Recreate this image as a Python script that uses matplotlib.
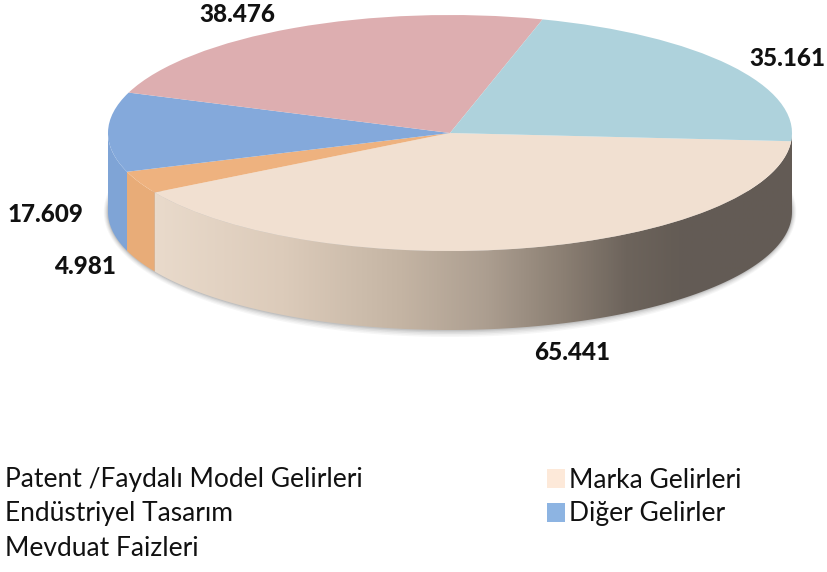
import numpy as np
import matplotlib
matplotlib.use("Agg")
import matplotlib.pyplot as plt
from matplotlib.colors import LinearSegmentedColormap
from matplotlib.patches import Polygon, Rectangle

# --- data
categories = ["Marka Gelirleri", "Mevduat Faizleri", "Diğer Gelirler",
              "Patent /Faydalı Model Gelirleri", "Endüstriyel Tasarım"]
values = [65.441, 4.981, 17.609, 38.476, 35.161]
value_labels = ["65.441", "4.981", "17.609", "38.476", "35.161"]
top_colors = ["#F1E0D1", "#EEB27F", "#84A9DB", "#DDAEB0", "#AED2DC"]
wall_colors = [None, "#E8AC78", "#7FA4D6"]
legend_left = ["Patent /Faydalı Model Gelirleri", "Endüstriyel Tasarım", "Mevduat Faizleri"]
legend_right = ["Marka Gelirleri", "Diğer Gelirler"]
legend_right_colors = ["#FDE9D9", "#8DB4E2"]

W, H = 827, 572
CX, CY, RX, RY = 450, 133, 342, 118
DEPTH = 79 / RY
START = -4

fig = plt.figure(figsize=(W / 100, H / 100), dpi=100)
ax = fig.add_axes([0, 0, 1, 1])
wedges, _ = ax.pie(values, startangle=START, counterclock=False, colors=top_colors,
                   wedgeprops=dict(linewidth=0))
for w in wedges:
    w.set_zorder(5)
ax.set_aspect("auto")
xlim = (-CX / RX, (W - CX) / RX)
ylim = (-(H - CY) / RY, CY / RY)


def wall(t0, t1):
    t = np.radians(np.linspace(t0, t1, 120))
    x, y = np.cos(t), np.sin(t)
    return np.column_stack([np.r_[x, x[::-1]], np.r_[y, y[::-1] - DEPTH]])


bounds = START - np.cumsum([0] + values) / sum(values) * 360

# soft shadow under the wall
for off, a in zip([7, 5.5, 4, 2.5, 1.2], [.05, .06, .08, .10, .12]):
    t = np.radians(np.linspace(10, -190, 200))
    pts = np.column_stack([np.cos(t) * (RX + off * .6) / RX,
                           np.sin(t) * (RY + off) / RY - DEPTH])
    ax.add_patch(Polygon(pts, closed=True, fc="#555555", ec="none", alpha=a, zorder=1))

# gradient wall of the largest slice
stops = [(0.0, "#E9DACB"), (0.2, "#DCCBBA"), (0.38, "#C5B5A4"), (0.52, "#AC9E90"),
         (0.64, "#8B7F73"), (0.74, "#6D645C"), (0.82, "#645C55"), (1.0, "#635B55")]
cmap = LinearSegmentedColormap.from_list("side", stops)
x0, x1 = np.cos(np.radians(bounds[1])), 1.0
poly = Polygon(wall(0, bounds[1]), closed=True, fc="none", ec="none",
               transform=ax.transData)
ax.add_patch(poly)
im = ax.imshow(np.linspace(0, 1, 512).reshape(1, -1), cmap=cmap, aspect="auto",
               extent=(x0, x1, -2, 1), zorder=3, interpolation="bilinear")
im.set_clip_path(poly)

ax.add_patch(Polygon(wall(bounds[1], bounds[2]), closed=True, fc=wall_colors[1], ec="none", zorder=3))
ax.add_patch(Polygon(wall(bounds[2], -180), closed=True, fc=wall_colors[2], ec="none", zorder=3))
ax.set_xlim(*xlim)
ax.set_ylim(*ylim)
ax.set_axis_off()


def px(x, y):
    return x / W, 1 - y / H


label_pos = [(572, 352), (85, 267), (46, 214), (237, 15), (787, 59)]
for s, (x, y) in zip(value_labels, label_pos):
    fig.text(*px(x, y), s, ha="center", va="center", fontsize=17.5,
             fontweight="black", family="Lato", color="#111111")

for s, y in zip(legend_left, [480, 514, 549]):
    fig.text(*px(5, y), s, ha="left", va="center", fontsize=19, family="Lato", color="#111111")
for s, c, y in zip(legend_right, legend_right_colors, [480, 514]):
    fig.text(*px(569, y), s, ha="left", va="center", fontsize=19, family="Lato", color="#111111")
    fig.add_artist(Rectangle(px(547, y + 8), 18 / W, 19 / H, fc=c, ec="none",
                             transform=fig.transFigure))

fig.savefig("out.png", dpi=100)
